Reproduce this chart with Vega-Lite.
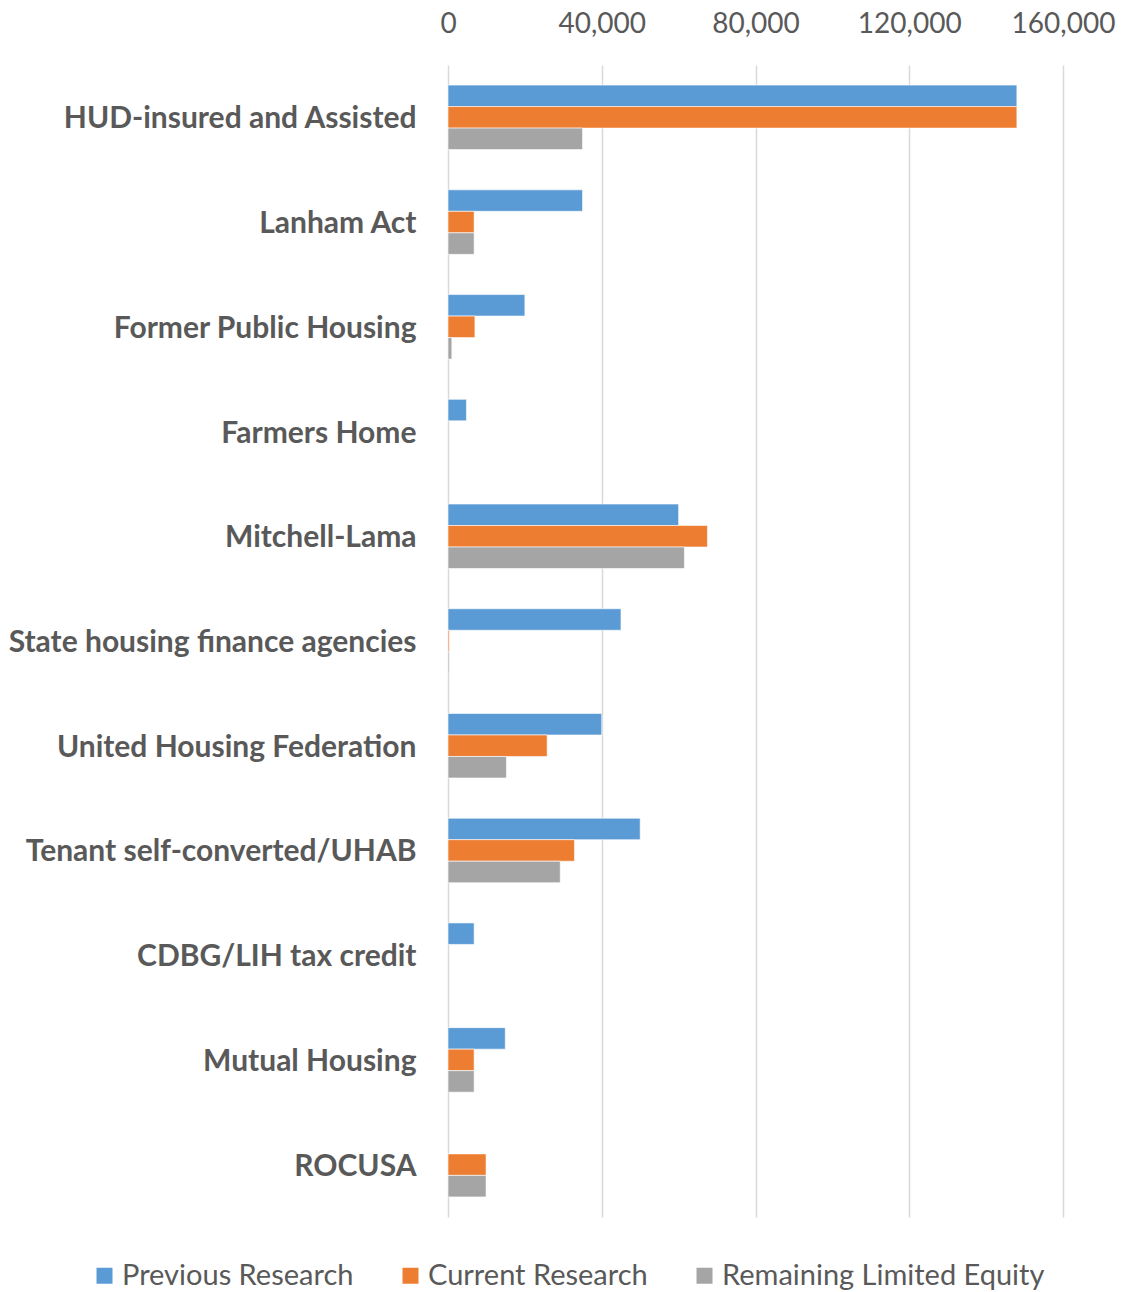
{
  "$schema": "https://vega.github.io/schema/vega-lite/v6.json",
  "autosize": {"type": "none"},
  "padding": {"left": 448, "top": 65, "right": 59, "bottom": 75},
  "width": 615,
  "height": 1152,
  "background": "white",
  "config": {
    "view": {"stroke": null},
    "font": "Lato"
  },
  "data": {
    "values": [
      {"program": "HUD-insured and Assisted", "series": "Previous Research", "k": 1, "units": 148000},
      {"program": "HUD-insured and Assisted", "series": "Current Research", "k": 2, "units": 148000},
      {"program": "HUD-insured and Assisted", "series": "Remaining Limited Equity", "k": 3, "units": 35000},
      {"program": "Lanham Act", "series": "Previous Research", "k": 1, "units": 35000},
      {"program": "Lanham Act", "series": "Current Research", "k": 2, "units": 6800},
      {"program": "Lanham Act", "series": "Remaining Limited Equity", "k": 3, "units": 6800},
      {"program": "Former Public Housing", "series": "Previous Research", "k": 1, "units": 20000},
      {"program": "Former Public Housing", "series": "Current Research", "k": 2, "units": 7000},
      {"program": "Former Public Housing", "series": "Remaining Limited Equity", "k": 3, "units": 1000},
      {"program": "Farmers Home", "series": "Previous Research", "k": 1, "units": 4800},
      {"program": "Mitchell-Lama", "series": "Previous Research", "k": 1, "units": 60000},
      {"program": "Mitchell-Lama", "series": "Current Research", "k": 2, "units": 67500},
      {"program": "Mitchell-Lama", "series": "Remaining Limited Equity", "k": 3, "units": 61500},
      {"program": "State housing finance agencies", "series": "Previous Research", "k": 1, "units": 45000},
      {"program": "State housing finance agencies", "series": "Current Research", "k": 2, "units": 300},
      {"program": "State housing finance agencies", "series": "Remaining Limited Equity", "k": 3, "units": 300},
      {"program": "United Housing Federation", "series": "Previous Research", "k": 1, "units": 40000},
      {"program": "United Housing Federation", "series": "Current Research", "k": 2, "units": 25800},
      {"program": "United Housing Federation", "series": "Remaining Limited Equity", "k": 3, "units": 15200},
      {"program": "Tenant self-converted/UHAB", "series": "Previous Research", "k": 1, "units": 50000},
      {"program": "Tenant self-converted/UHAB", "series": "Current Research", "k": 2, "units": 32900},
      {"program": "Tenant self-converted/UHAB", "series": "Remaining Limited Equity", "k": 3, "units": 29200},
      {"program": "CDBG/LIH tax credit", "series": "Previous Research", "k": 1, "units": 6800},
      {"program": "Mutual Housing", "series": "Previous Research", "k": 1, "units": 14900},
      {"program": "Mutual Housing", "series": "Current Research", "k": 2, "units": 6800},
      {"program": "Mutual Housing", "series": "Remaining Limited Equity", "k": 3, "units": 6800},
      {"program": "ROCUSA", "series": "Current Research", "k": 2, "units": 9900},
      {"program": "ROCUSA", "series": "Remaining Limited Equity", "k": 3, "units": 9900}
    ]
  },
  "mark": {"type": "bar", "stroke": "white", "strokeWidth": 0.6},
  "encoding": {
    "y": {
      "field": "program",
      "type": "nominal",
      "sort": ["HUD-insured and Assisted", "Lanham Act", "Former Public Housing", "Farmers Home", "Mitchell-Lama", "State housing finance agencies", "United Housing Federation", "Tenant self-converted/UHAB", "CDBG/LIH tax credit", "Mutual Housing", "ROCUSA"],
      "scale": {"paddingInner": 0.384, "paddingOuter": 0.192},
      "axis": {
        "title": null,
        "domain": false,
        "ticks": false,
        "labelPadding": 32,
        "labelOffset": 2,
        "labelFontSize": 30,
        "labelFontWeight": "bold",
        "labelColor": "#595959",
        "labelLimit": 600,
        "grid": false
      }
    },
    "yOffset": {
      "field": "series",
      "type": "nominal",
      "sort": ["Previous Research", "Current Research", "Remaining Limited Equity"],
      "scale": {"paddingInner": 0, "paddingOuter": 0}
    },
    "x": {
      "field": "units",
      "type": "quantitative",
      "scale": {"domain": [0, 160000], "nice": false},
      "axis": {
        "orient": "top",
        "title": null,
        "values": [0, 40000, 80000, 120000, 160000],
        "format": ",d",
        "domain": false,
        "ticks": false,
        "labelPadding": 27,
        "labelFontSize": 28,
        "labelColor": "#595959",
        "grid": true,
        "gridColor": "#D9D9D9",
        "gridWidth": 1.5,
        "labelFlush": false
      }
    },
    "color": {
      "field": "series",
      "type": "nominal",
      "sort": ["Previous Research", "Current Research", "Remaining Limited Equity"],
      "scale": {
        "domain": ["Previous Research", "Current Research", "Remaining Limited Equity"],
        "range": ["#5B9BD5", "#ED7D31", "#A5A5A5"]
      },
      "legend": {
        "title": null,
        "orient": "none",
        "direction": "horizontal",
        "legendX": -358,
        "legendY": 1196,
        "symbolType": "square",
        "symbolSize": 256,
        "symbolStrokeWidth": 0,
        "labelFontSize": 29,
        "labelColor": "#595959",
        "labelOffset": 3,
        "labelLimit": 600,
        "columnPadding": 42
      }
    }
  }
}
